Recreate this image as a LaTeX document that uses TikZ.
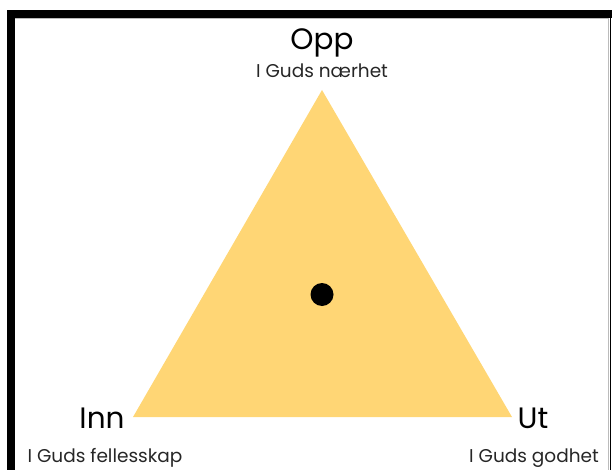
\documentclass[tikz,border=0pt]{standalone}
\usepackage{fontspec}
\setmainfont{Poppins}
\usepackage{xcolor}
\usetikzlibrary{positioning}
\definecolor{TriFill}{HTML}{FFD675}
\definecolor{FrameGray}{HTML}{BBBBBB}

\begin{document}
\begin{tikzpicture}[x=1pt,y=-1pt,
  head/.style={font=\fontsize{29.5}{32}\selectfont,anchor=base,inner sep=0pt},
  sub/.style={font=\fontsize{18.5}{20}\selectfont,text=black!85,anchor=base,inner sep=0pt},
  band/.style={fill=black,draw=none}
]
\useasboundingbox (0,0) rectangle (612,470);
% frame
\fill[band] (7,10) rectangle (612,18);
\fill[band] (7,10) rectangle (15,470);
\draw[FrameGray,line width=0.6pt] (15,18.3) -- (608,18.3) -- (608,470);
\draw[black,line width=1.2pt] (610.4,18) -- (610.4,470);
% triangle corners
\coordinate (top) at (322,90);
\coordinate (left) at (133,417);
\coordinate (right) at (512,417);
\fill[TriFill] (top) -- (left) -- (right) -- cycle;
\coordinate (mid) at (322,294.5);
\fill[black] (mid) circle (11.5);
% labels
\node[head] (opp) at (322,50) {Opp};
\node[sub]  (oppsub) at (322,78) {I Guds nærhet};
\node[head] (inn) at (102,428) {Inn};
\node[sub]  (innsub) at (105,462) {I Guds fellesskap};
\node[head] (ut) at (533,428) {Ut};
\node[sub]  (utsub) at (534,462) {I Guds godhet};
\end{tikzpicture}
\end{document}
